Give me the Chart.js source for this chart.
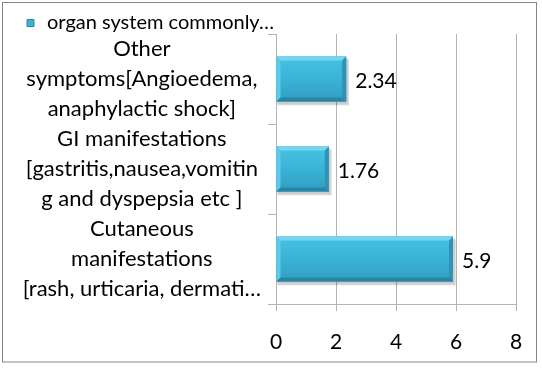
<!DOCTYPE html>
<html>
<head>
<meta charset="utf-8">
<script src="https://cdn.jsdelivr.net/npm/chart.js@4"></script>
<style>
html,body{margin:0;padding:0;background:#fff;}
#wrap{width:542px;height:368px;position:relative;}
</style>
</head>
<body>
<div id="wrap"><canvas id="c" width="542" height="368"></canvas></div>
<script>
// ---- data ----
const categories = [
  ["Other", "symptoms[Angioedema,", "anaphylactic shock]"],
  ["GI manifestations", "[gastritis,nausea,vomitin", "g and dyspepsia etc ]"],
  ["Cutaneous", "manifestations", "[rash, urticaria, dermati\u2026"]
];
const seriesName = "organ system commonly\u2026";
const seriesValues = [2.34, 1.76, 5.9];
const valueLabels = ["2.34", "1.76", "5.9"];
const xTicks = [0, 2, 4, 6, 8];

const FONT = "Lato, 'Open Sans', sans-serif";
const GRID = "#b4b4b4";

const frame = {
  id: 'frame',
  beforeDraw(chart) {
    const ctx = chart.ctx;
    ctx.save();
    ctx.fillStyle = '#fff';
    ctx.fillRect(0, 0, chart.width, chart.height);
    ctx.strokeStyle = '#868686';
    ctx.lineWidth = 1;
    ctx.strokeRect(2.5, 2.5, 534, 359.5);
    ctx.restore();
  }
};

const legendFit = {
  id: 'legendFit',
  afterInit(chart) {
    const lg = chart.legend;
    if (!lg) return;
    const orig = lg.fit.bind(lg);
    lg.fit = function () { orig(); this.height = 30; };
  }
};

const bevelBars = {
  id: 'bevelBars',
  beforeDatasetsDraw(chart) {
    const ctx = chart.ctx;
    const meta = chart.getDatasetMeta(0);
    ctx.save();
    meta.data.forEach(bar => {
      const l = bar.base, r = bar.x, t = bar.y - bar.height / 2, b = bar.y + bar.height / 2;
      ctx.fillStyle = 'rgba(0,0,0,0.10)';
      ctx.fillRect(l + 1, t + 3, r - l + 2, b - t + 1);
      ctx.fillStyle = 'rgba(0,0,0,0.10)';
      ctx.fillRect(l + 1, t + 2, r - l + 1, b - t + 1);
    });
    ctx.restore();
  },
  afterDatasetsDraw(chart) {
    const ctx = chart.ctx;
    const meta = chart.getDatasetMeta(0);
    ctx.save();
    meta.data.forEach((bar, i) => {
      const l = bar.base, r = bar.x, t = bar.y - bar.height / 2, b = bar.y + bar.height / 2;
      const g = ctx.createLinearGradient(0, t, 0, b);
      g.addColorStop(0, '#46c2e4');
      g.addColorStop(0.5, '#3ab3d7');
      g.addColorStop(1, '#329cc0');
      ctx.fillStyle = g;
      ctx.fillRect(l, t, r - l, b - t);
      const e = 4;
      ctx.fillStyle = '#78d5ee';
      ctx.beginPath();
      ctx.moveTo(l, t); ctx.lineTo(r, t); ctx.lineTo(r - e, t + e); ctx.lineTo(l + e, t + e); ctx.closePath(); ctx.fill();
      ctx.fillStyle = '#5ccbea';
      ctx.beginPath();
      ctx.moveTo(l, t); ctx.lineTo(l + e, t + e); ctx.lineTo(l + e, b - e); ctx.lineTo(l, b); ctx.closePath(); ctx.fill();
      ctx.fillStyle = '#2f93b4';
      ctx.beginPath();
      ctx.moveTo(r, t); ctx.lineTo(r, b); ctx.lineTo(r - e, b - e); ctx.lineTo(r - e, t + e); ctx.closePath(); ctx.fill();
      ctx.fillStyle = '#2a85a4';
      ctx.beginPath();
      ctx.moveTo(l, b); ctx.lineTo(r, b); ctx.lineTo(r - e, b - e); ctx.lineTo(l + e, b - e); ctx.closePath(); ctx.fill();
      ctx.fillStyle = '#000';
      ctx.font = '21px ' + FONT;
      ctx.textAlign = 'left';
      ctx.textBaseline = 'middle';
      ctx.fillText(valueLabels[i], r + 9, bar.y + 2);
    });
    ctx.restore();
  }
};

new Chart(document.getElementById('c'), {
  type: 'bar',
  data: {
    labels: categories,
    datasets: [{
      label: seriesName,
      data: seriesValues,
      backgroundColor: '#3ab3d7',
      borderWidth: 0,
      barPercentage: 0.5,
      categoryPercentage: 1
    }]
  },
  options: {
    indexAxis: 'y',
    responsive: false,
    animation: false,
    layout: { padding: { left: 15, right: 26, top: 4, bottom: 0 } },
    plugins: {
      legend: {
        display: true,
        position: 'top',
        align: 'start',
        labels: {
          usePointStyle: true,
          pointStyle: 'rect',
          boxWidth: 13,
          boxHeight: 7,
          padding: 9,
          color: '#000',
          font: { family: FONT, size: 20 },
          generateLabels(chart) {
            return [{
              text: seriesName,
              fillStyle: '#3ab3d7',
              strokeStyle: '#2a85a4',
              lineWidth: 1,
              pointStyle: 'rect',
              datasetIndex: 0
            }];
          }
        }
      },
      tooltip: { enabled: false }
    },
    scales: {
      x: {
        min: 0, max: 8,
        afterBuildTicks(scale) { scale.ticks = xTicks.map(v => ({ value: v })); },
        afterFit(scale) { scale.height = 64; },
        grid: { color: GRID, tickLength: 7, drawTicks: true },
        border: { display: true, color: GRID },
        ticks: { color: '#000', padding: 19, font: { family: FONT, size: 21 } }
      },
      y: {
        afterFit(scale) { scale.width = 261; scale.paddingTop = 0; scale.paddingBottom = 0; },
        grid: { display: true, drawOnChartArea: false, drawTicks: true, tickLength: 8, color: GRID, offset: true },
        border: { display: true, color: GRID },
        ticks: {
          color: '#000', padding: 7, crossAlign: 'center', autoSkip: false,
          font: { family: FONT, size: 22, lineHeight: 1.36 }
        }
      }
    }
  },
  plugins: [frame, legendFit, bevelBars]
});
</script>
</body>
</html>
